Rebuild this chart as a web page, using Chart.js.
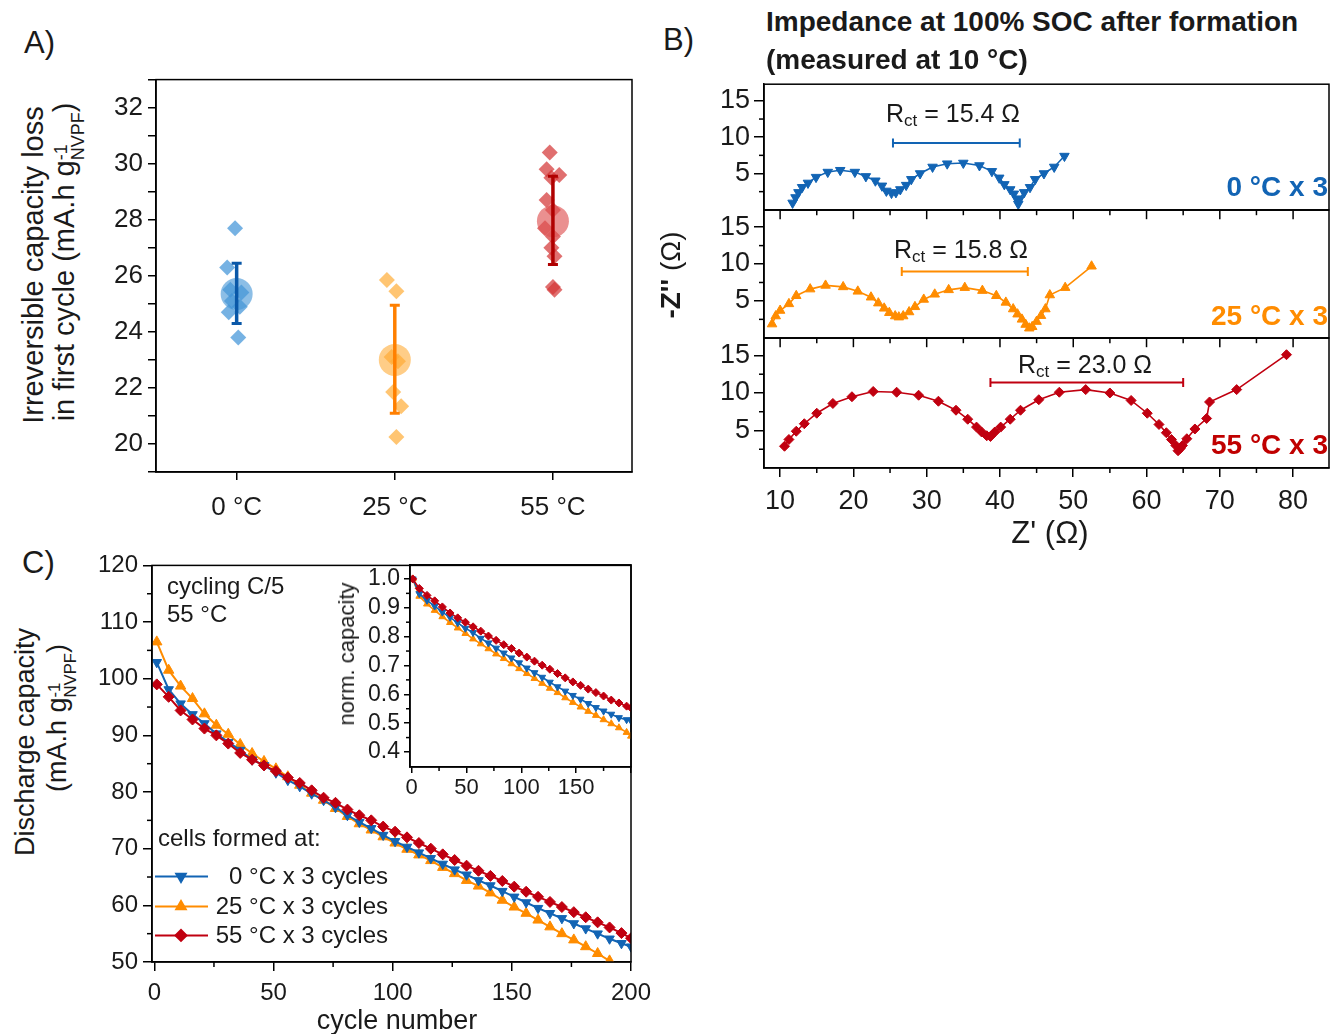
<!DOCTYPE html>
<html>
<head>
<meta charset="utf-8">
<script src="https://cdn.jsdelivr.net/npm/chart.js@4.4.0/dist/chart.umd.min.js"></script>
<style>
body{margin:0;background:#fff;width:1330px;height:1034px;position:relative;overflow:hidden;font-family:'Liberation Sans',Arial,sans-serif;color:#1a1a1a}
canvas{position:absolute}
.t{position:absolute;white-space:nowrap;line-height:1}
.rot{transform:translate(-50%,-50%) rotate(-90deg)}
.ctr{transform:translate(-50%,-50%)}
.rgt{transform:translate(-100%,-50%)}
.lft{transform:translateY(-50%)}
.ss{display:inline-flex;flex-direction:column;font-size:0.62em;line-height:0.95;vertical-align:0.38em}
sub{font-size:0.68em;vertical-align:-0.25em}
</style>
</head>
<body>
<canvas id="chartA" width="560" height="470" style="left:90px;top:70px"></canvas>
<canvas id="chartB0" width="630" height="132" style="left:700px;top:78px"></canvas>
<canvas id="chartB25" width="630" height="128" style="left:700px;top:210px"></canvas>
<canvas id="chartB55" width="630" height="190" style="left:700px;top:338px"></canvas>
<canvas id="chartC" width="600" height="465" style="left:90px;top:550px"></canvas>
<canvas id="chartInset" width="300" height="250" style="left:355px;top:550px"></canvas>

<div class="t" style="left:24px;top:27px;font-size:31px">A)</div>
<div class="t" style="left:663px;top:24px;font-size:31px">B)</div>
<div class="t" style="left:22px;top:547px;font-size:31px">C)</div>

<div class="t rot" style="left:33px;top:265px;font-size:29px">Irreversible capacity loss</div>
<div class="t rot" style="left:69px;top:262px;font-size:29px">in first cycle (mA.h g<span class="ss"><span>-1</span><span>NVPF</span></span>)</div>

<div class="t" style="left:766px;top:8px;font-size:28px;font-weight:bold">Impedance at 100% SOC after formation</div>
<div class="t" style="left:766px;top:46px;font-size:28px;font-weight:bold">(measured at 10 °C)</div>
<div class="t rot" style="left:671px;top:275px;font-size:28px"><b>-Z''</b> (Ω)</div>
<div class="t ctr" style="left:1050px;top:532px;font-size:31px">Z' (Ω)</div>
<div class="t ctr" style="left:953px;top:115px;font-size:25px">R<sub>ct</sub> = 15.4 Ω</div>
<div class="t ctr" style="left:961px;top:251px;font-size:25px">R<sub>ct</sub> = 15.8 Ω</div>
<div class="t ctr" style="left:1085px;top:366px;font-size:25px">R<sub>ct</sub> = 23.0 Ω</div>
<div class="t rgt" style="left:1328px;top:187px;font-size:28px;font-weight:bold;color:#1264b4">0 °C x 3</div>
<div class="t rgt" style="left:1328px;top:316px;font-size:28px;font-weight:bold;color:#ff8c00">25 °C x 3</div>
<div class="t rgt" style="left:1328px;top:445px;font-size:28px;font-weight:bold;color:#c00000">55 °C x 3</div>

<div class="t rot" style="left:25px;top:742px;font-size:27px">Discharge capacity</div>
<div class="t rot" style="left:61px;top:718px;font-size:27px">(mA.h g<span class="ss"><span>-1</span><span>NVPF</span></span>)</div>
<div class="t ctr" style="left:397px;top:1020px;font-size:27px">cycle number</div>
<div class="t lft" style="left:167px;top:586px;font-size:24px">cycling C/5</div>
<div class="t lft" style="left:167px;top:614px;font-size:24px">55 °C</div>
<div class="t lft" style="left:158px;top:838px;font-size:24px">cells formed at:</div>
<div class="t rgt" style="left:388px;top:876px;font-size:24px">0 °C x 3 cycles</div>
<div class="t rgt" style="left:388px;top:906px;font-size:24px">25 °C x 3 cycles</div>
<div class="t rgt" style="left:388px;top:935px;font-size:24px">55 °C x 3 cycles</div>
<div class="t rot" style="left:347px;top:654px;font-size:22px">norm. capacity</div>

<script>
// ---- A) irreversible capacity loss in first cycle ----
const categories = ['0 °C', '25 °C', '55 °C'];
const lossMean = [25.35, 23.0, 27.95];
const lossLow = [24.3, 21.1, 26.4];
const lossHigh = [26.45, 24.95, 29.55];
const loss0C = [27.7, 26.3, 25.5, 25.4, 25.1, 24.9, 24.7, 23.8];
const jitter0C = [-0.01, -0.06, -0.04, 0.03, -0.03, 0.02, -0.05, 0.01];
const loss25C = [25.85, 25.45, 23.1, 22.95, 21.85, 21.35, 20.25];
const jitter25C = [-0.05, 0.01, -0.02, 0.02, -0.01, 0.04, 0.01];
const loss55C = [30.4, 29.8, 29.6, 29.5, 28.7, 28.35, 27.7, 27.4, 27.0, 26.7, 25.6, 25.5];
const jitter55C = [-0.02, -0.04, 0.04, -0.01, -0.04, 0.0, -0.05, 0.0, -0.01, 0.01, 0.0, 0.01];

// ---- B) impedance spectra, Z' and -Z'' in ohm ----
const zRe0 = [11.7, 12.1, 12.5, 13.0, 13.8, 14.9, 16.5, 18.2, 20.2, 21.7, 23.0, 23.9, 24.5, 25.2, 25.8, 26.4, 27.2, 27.9, 29.1, 30.8, 32.8, 35.0, 37.2, 38.9, 39.9, 40.6, 41.4, 41.9, 42.3, 42.5, 42.7, 43.3, 44.1, 44.8, 46.0, 47.4, 48.8];
const zIm0 = [0.95, 1.7, 2.4, 3.1, 3.7, 4.5, 5.2, 5.45, 5.2, 4.6, 4.0, 3.3, 2.6, 2.3, 2.4, 2.8, 3.4, 4.2, 5.0, 5.9, 6.35, 6.45, 6.1, 5.3, 4.4, 3.5, 2.8, 2.2, 1.5, 0.8, 1.5, 2.4, 3.1, 4.2, 5.0, 5.9, 7.4];
const zRe25 = [8.9, 9.4, 10.0, 11.2, 12.2, 14.1, 16.2, 18.6, 20.6, 22.4, 23.4, 24.2, 24.9, 25.7, 26.2, 26.8, 27.6, 28.4, 29.6, 31.1, 33.0, 35.2, 37.6, 39.5, 40.8, 41.8, 42.4, 43.0, 43.5, 44.0, 44.4, 45.0, 45.6, 46.2, 46.8, 48.9, 52.5];
const zIm25 = [1.86, 2.95, 3.7, 4.6, 5.7, 6.6, 7.1, 6.9, 6.3, 5.5, 4.7, 4.0, 3.4, 2.95, 2.8, 2.95, 3.5, 4.2, 5.2, 5.9, 6.5, 6.8, 6.4, 5.7, 4.8, 3.9, 3.2, 2.5, 1.8, 1.3, 1.5, 2.2, 3.0, 3.9, 5.8, 6.8, 9.7];
const zRe55 = [10.6, 11.2, 12.2, 13.3, 15.0, 17.2, 19.8, 22.7, 25.9, 28.9, 31.6, 34.0, 35.6, 36.8, 37.5, 38.2, 38.7, 39.3, 40.1, 41.4, 42.8, 45.3, 48.1, 51.7, 55.0, 57.9, 60.1, 61.7, 62.7, 63.4, 64.0, 64.3, 64.6, 64.9, 65.5, 66.6, 68.2, 68.6, 72.3, 79.1];
const zIm55 = [2.9, 3.8, 4.9, 5.9, 7.3, 8.6, 9.5, 10.2, 10.1, 9.7, 8.9, 7.7, 6.5, 5.45, 4.8, 4.3, 4.2, 4.8, 5.45, 6.5, 7.7, 9.1, 10.1, 10.45, 10.0, 9.0, 7.3, 5.8, 4.7, 3.8, 3.0, 2.3, 2.6, 3.0, 3.9, 5.2, 6.6, 8.8, 10.45, 15.1];
const rct0 = [25.4, 42.7], rct0Level = 9.2;
const rct25 = [26.6, 43.8], rct25Level = 9.0;
const rct55 = [38.7, 65.0], rct55Level = 11.4;

// ---- C) cycling at C/5, 55 °C ----
const cycles = [1, 6, 11, 16, 21, 26, 31, 36, 41, 46, 51, 56, 61, 66, 71, 76, 81, 86, 91, 96, 101, 106, 111, 116, 121, 126, 131, 136, 141, 146, 151, 156, 161, 166, 171, 176, 181, 186, 191, 196, 200];
const cap0C = [102.9, 98.1, 95.6, 93.7, 92.1, 90.3, 88.8, 87.4, 85.7, 84.7, 83.4, 82.1, 81.0, 79.7, 78.55, 77.3, 75.9, 74.7, 73.6, 72.4, 71.3, 70.3, 69.3, 68.3, 67.3, 66.3, 65.4, 64.4, 63.5, 62.5, 61.5, 60.5, 59.5, 58.6, 57.7, 56.8, 55.9, 55.0, 54.1, 53.3, 52.7];
const cap25C = [106.5, 101.5, 98.7, 96.5, 93.8, 91.8, 90.2, 88.4, 86.8, 85.4, 84.1, 82.7, 81.2, 79.8, 78.55, 77.1, 75.7, 74.4, 73.3, 72.1, 71.0, 69.9, 68.9, 67.9, 66.7, 65.6, 64.4, 63.4, 62.2, 60.9, 59.7, 58.6, 57.4, 56.2, 55.0, 53.9, 52.7, 51.5, 50.2];
const cap55C = [99.0, 96.8, 94.4, 92.8, 91.2, 90.0, 88.55, 86.9, 85.7, 84.7, 83.7, 82.55, 81.6, 80.3, 79.0, 78.1, 76.9, 75.9, 75.0, 73.9, 73.0, 72.0, 71.0, 70.0, 69.0, 68.0, 67.0, 66.1, 65.2, 64.3, 63.3, 62.4, 61.5, 60.6, 59.7, 58.8, 57.9, 57.0, 56.1, 55.1, 54.2];
const insetCycles = [1, 7, 14, 21, 28, 35, 42, 49, 56, 63, 70, 77, 84, 91, 98, 105, 112, 119, 126, 133, 140, 147, 154, 161, 168, 175, 182, 189, 196, 200];
const norm0C = [1, 0.949, 0.926, 0.906, 0.885, 0.867, 0.848, 0.829, 0.814, 0.794, 0.778, 0.760, 0.743, 0.726, 0.709, 0.691, 0.675, 0.659, 0.642, 0.626, 0.611, 0.596, 0.583, 0.568, 0.554, 0.542, 0.531, 0.519, 0.512, 0.508];
const norm25C = [1, 0.940, 0.913, 0.891, 0.869, 0.849, 0.830, 0.811, 0.792, 0.775, 0.758, 0.740, 0.724, 0.706, 0.689, 0.672, 0.655, 0.638, 0.621, 0.606, 0.588, 0.572, 0.556, 0.541, 0.527, 0.512, 0.498, 0.484, 0.468, 0.455];
const norm55C = [1, 0.967, 0.943, 0.924, 0.903, 0.882, 0.865, 0.850, 0.834, 0.819, 0.802, 0.787, 0.772, 0.759, 0.743, 0.729, 0.715, 0.701, 0.687, 0.672, 0.657, 0.643, 0.631, 0.618, 0.606, 0.594, 0.580, 0.570, 0.559, 0.553];

// tick positions (major ticks carry labels, minor ones are short marks)
const ticksA_x = [1, 2, 3];
const ticksA_y = [19, 20, 21, 22, 23, 24, 25, 26, 27, 28, 29, 30, 31, 32, 33];
const majorB_x = [10, 20, 30, 40, 50, 60, 70, 80];
const minorB_x = [15, 25, 35, 45, 55, 65, 75];
const majorB_y = [5, 10, 15];
const minorB_y = [2.5, 7.5, 12.5];
const majorC_x = [0, 50, 100, 150, 200];
const minorC_x = [25, 75, 125, 175];
const majorC_y = [50, 60, 70, 80, 90, 100, 110, 120];
const minorC_y = [55, 65, 75, 85, 95, 105, 115];
const majorIn_y = [0.4, 0.5, 0.6, 0.7, 0.8, 0.9, 1.0];
const minorIn_y = [0.45, 0.55, 0.65, 0.75, 0.85, 0.95];

const BLUE = '#1264b4', ORANGE = '#ff8c00', RED = '#c00010';

Chart.defaults.font.family = "'Liberation Sans', Arial, sans-serif";
Chart.defaults.color = '#1a1a1a';
Chart.defaults.animation = false;
Chart.defaults.plugins.legend.display = false;
Chart.defaults.plugins.tooltip.enabled = false;

// box round the plot area, short minor ticks, inward ticks on the top edge
const framePlugin = {
    id: 'frame',
    afterDraw(chart, args, opts) {
        const ctx = chart.ctx;
        const a = chart.chartArea;
        const xs = chart.scales.x, ys = chart.scales.y;
        const seg = (x1, y1, x2, y2) => { ctx.beginPath(); ctx.moveTo(x1, y1); ctx.lineTo(x2, y2); ctx.stroke(); };
        ctx.save();
        ctx.strokeStyle = '#000';
        ctx.lineWidth = 1.5;
        ctx.strokeRect(a.left, a.top, a.right - a.left, a.bottom - a.top);
        const ml = opts.minorLen || 5;
        (opts.minorY || []).forEach((v) => { const p = ys.getPixelForValue(v); seg(a.left - ml, p, a.left, p); });
        (opts.minorX || []).forEach((v) => { const p = xs.getPixelForValue(v); seg(p, a.bottom, p, a.bottom + ml); });
        (opts.topMajor || []).forEach((v) => { const p = xs.getPixelForValue(v); seg(p, a.top, p, a.top + 9); });
        (opts.topMinor || []).forEach((v) => { const p = xs.getPixelForValue(v); seg(p, a.top, p, a.top + 5); });
        ctx.restore();
    }
};

// line + marker samples of the legend in C
const legendPlugin = {
    id: 'sampleLegend',
    afterDraw(chart, args, opts) {
        if (!opts.rows) return;
        const ctx = chart.ctx;
        const a = chart.chartArea;
        ctx.save();
        opts.rows.forEach((r) => {
            const y = a.top + r.dy;
            ctx.strokeStyle = r.color;
            ctx.fillStyle = r.color;
            ctx.lineWidth = 2;
            ctx.beginPath();
            ctx.moveTo(a.left + 3, y);
            ctx.lineTo(a.left + 56, y);
            ctx.stroke();
            Chart.helpers.drawPoint(ctx, { pointStyle: r.style, radius: 5.5, rotation: r.rot || 0, borderWidth: 1 }, a.left + 29, y);
        });
        ctx.restore();
    }
};

Chart.register(framePlugin, legendPlugin);

function axis(o) {
    return {
        type: 'linear',
        position: o.position,
        display: o.display !== false,
        min: o.min,
        max: o.max,
        grid: { drawOnChartArea: false, drawTicks: true, tickLength: o.tick || 8, color: '#000', lineWidth: 1.5 },
        border: { display: true, color: '#000', width: 1.5 },
        ticks: {
            autoSkip: false, maxRotation: 0, padding: o.pad || 4, color: '#1a1a1a',
            font: { size: o.size || 24 },
            callback: o.label
        },
        afterBuildTicks: (s) => { s.ticks = o.ticks.map((v) => ({ value: v })); },
        afterFit: (s) => {
            if (!o.fit) return;
            if (s.isHorizontal()) s.height = o.fit; else s.width = o.fit;
        }
    };
}

function pts(xs, ys) {
    return ys.map((y, i) => ({ x: xs[i], y: y }));
}

// resize/move a canvas so that its plot area lands on the given box of the page
function fitArea(chart, box) {
    const a = chart.chartArea;
    const w = Math.round(chart.width + (box.right - box.left) - (a.right - a.left));
    const h = Math.round(chart.height + (box.bottom - box.top) - (a.bottom - a.top));
    chart.resize(w, h);
    const b = chart.chartArea;
    chart.canvas.style.left = Math.round(box.left - b.left) + 'px';
    chart.canvas.style.top = Math.round(box.top - b.top) + 'px';
}

const baseOpts = { responsive: false, maintainAspectRatio: false };

// ---------- chart A ----------
const lossPoints = [loss0C, loss25C, loss55C];
const lossJitter = [jitter0C, jitter25C, jitter55C];
const styleA = [
    { bar: '#0a58a8', dot: 'rgba(60,145,215,0.7)', mean: 'rgba(70,150,215,0.62)' },
    { bar: '#ff7f00', dot: 'rgba(255,175,60,0.72)', mean: 'rgba(255,172,55,0.6)' },
    { bar: '#b00000', dot: 'rgba(212,55,55,0.72)', mean: 'rgba(222,85,85,0.65)' }
];
const setsA = [];
categories.forEach((c, i) => {
    setsA.push({
        label: c + ' sd',
        data: [{ x: i + 1, y: lossLow[i] }, { x: i + 1, y: lossHigh[i] }],
        showLine: true, borderColor: styleA[i].bar, borderWidth: 3.5,
        pointStyle: 'line', pointRadius: 5, pointBorderWidth: 3, pointBorderColor: styleA[i].bar
    });
});
categories.forEach((c, i) => {
    setsA.push({
        label: c + ' mean',
        data: [{ x: i + 1, y: lossMean[i] }],
        pointStyle: 'circle', pointRadius: 16, backgroundColor: styleA[i].mean, borderWidth: 0
    });
});
categories.forEach((c, i) => {
    setsA.push({
        label: c,
        data: lossPoints[i].map((v, k) => ({ x: i + 1 + lossJitter[i][k], y: v })),
        pointStyle: 'rectRot', pointRadius: 8, backgroundColor: styleA[i].dot, borderWidth: 0
    });
});

const chartA = new Chart(document.getElementById('chartA'), {
    type: 'scatter',
    data: { datasets: setsA },
    options: {
        ...baseOpts,
        layout: { padding: { top: 15, right: 20, left: 0, bottom: 0 } },
        scales: {
            x: axis({ position: 'bottom', min: 0.49, max: 3.5, ticks: ticksA_x, fit: 68, tick: 8, pad: 12, size: 26,
                label: (v) => categories[v - 1] }),
            y: axis({ position: 'left', min: 19, max: 33, ticks: ticksA_y, fit: 66, tick: 8, pad: 5, size: 26,
                label: (v) => (v % 2 === 0 ? v : '') })
        }
    }
});
fitArea(chartA, { left: 156, top: 80, right: 632, bottom: 472 });

// ---------- chart B (three stacked panels) ----------
function impedancePanel(id, re, im, rct, level, color, style, rot, opts) {
    return new Chart(document.getElementById(id), {
        type: 'scatter',
        data: {
            datasets: [
                {
                    label: 'Rct',
                    data: [{ x: rct[0], y: level }, { x: rct[1], y: level }],
                    showLine: true, borderColor: color, borderWidth: 2,
                    pointStyle: 'line', pointRotation: 90, pointRadius: 4.5, pointBorderWidth: 2, pointBorderColor: color
                },
                {
                    label: id,
                    data: pts(re, im),
                    showLine: true, borderColor: color, borderWidth: 1.6,
                    pointStyle: style, pointRotation: rot, pointRadius: style === 'rectRot' ? 5 : 5.5,
                    backgroundColor: color, pointBorderColor: color, pointBorderWidth: 1
                }
            ]
        },
        options: {
            ...baseOpts,
            layout: { padding: { top: 12, right: 12, left: 0, bottom: 0 } },
            plugins: {
                frame: {
                    minorY: minorB_y,
                    minorX: opts.showX ? minorB_x : [],
                    topMajor: opts.topTicks ? majorB_x : [],
                    topMinor: opts.topTicks ? minorB_x : []
                }
            },
            scales: {
                x: axis({ position: 'bottom', display: opts.showX, min: 7.8, max: 84.9, ticks: majorB_x,
                    fit: opts.showX ? 48 : 0, tick: 9, pad: 8, size: 27 }),
                y: axis({ position: 'left', min: 0, max: 17.3, ticks: majorB_y, fit: 64, tick: 10, pad: 4, size: 27 })
            }
        }
    });
}

const chartB0 = impedancePanel('chartB0', zRe0, zIm0, rct0, rct0Level, BLUE, 'triangle', 180, { showX: false, topTicks: false });
const chartB25 = impedancePanel('chartB25', zRe25, zIm25, rct25, rct25Level, ORANGE, 'triangle', 0, { showX: false, topTicks: true });
const chartB55 = impedancePanel('chartB55', zRe55, zIm55, rct55, rct55Level, RED, 'rectRot', 0, { showX: true, topTicks: true });
fitArea(chartB0, { left: 764, top: 84, right: 1329, bottom: 210 });
fitArea(chartB25, { left: 764, top: 210, right: 1329, bottom: 338 });
fitArea(chartB55, { left: 764, top: 338, right: 1329, bottom: 468 });

// ---------- chart C ----------
function capSet(label, ys, color, style, rot, radius) {
    return {
        label: label,
        data: pts(cycles, ys),
        showLine: true, borderColor: color, borderWidth: 2,
        pointStyle: style, pointRotation: rot, pointRadius: radius,
        backgroundColor: color, pointBorderColor: color, pointBorderWidth: 1
    };
}

const chartC = new Chart(document.getElementById('chartC'), {
    type: 'scatter',
    data: {
        datasets: [
            capSet('55 °C x 3 cycles', cap55C, RED, 'rectRot', 0, 5.5),
            capSet('0 °C x 3 cycles', cap0C, BLUE, 'triangle', 180, 5.5),
            capSet('25 °C x 3 cycles', cap25C, ORANGE, 'triangle', 0, 6)
        ]
    },
    options: {
        ...baseOpts,
        layout: { padding: { top: 15, right: 30, left: 0, bottom: 0 } },
        plugins: {
            frame: { minorY: minorC_y, minorX: minorC_x },
            sampleLegend: {
                rows: [
                    { dy: 311, color: BLUE, style: 'triangle', rot: 180 },
                    { dy: 341, color: ORANGE, style: 'triangle', rot: 0 },
                    { dy: 370, color: RED, style: 'rectRot', rot: 0 }
                ]
            }
        },
        scales: {
            x: axis({ position: 'bottom', min: -1, max: 200, ticks: majorC_x, fit: 53, tick: 9, pad: 8, size: 24 }),
            y: axis({ position: 'left', min: 50, max: 120, ticks: majorC_y, fit: 62, tick: 9, pad: 5, size: 24 })
        }
    }
});
fitArea(chartC, { left: 152, top: 565, right: 631, bottom: 962 });

// ---------- inset: normalised capacity ----------
function normSet(label, ys, color, style, rot) {
    return {
        label: label,
        data: pts(insetCycles, ys),
        showLine: true, borderColor: color, borderWidth: 1.6,
        pointStyle: style, pointRotation: rot, pointRadius: 4,
        backgroundColor: color, pointBorderColor: color, pointBorderWidth: 1
    };
}

const chartInset = new Chart(document.getElementById('chartInset'), {
    type: 'scatter',
    data: {
        datasets: [
            normSet('55 °C', norm55C, RED, 'rectRot', 0),
            normSet('0 °C', norm0C, BLUE, 'triangle', 180),
            normSet('25 °C', norm25C, ORANGE, 'triangle', 0)
        ]
    },
    options: {
        ...baseOpts,
        layout: { padding: { top: 15, right: 20, left: 0, bottom: 0 } },
        plugins: { frame: { minorY: minorIn_y, minorX: minorC_x, minorLen: 4 } },
        scales: {
            x: axis({ position: 'bottom', min: -1.5, max: 200, ticks: majorC_x, fit: 33, tick: 6, pad: 2, size: 22,
                label: (v) => (v < 200 ? v : '') }),
            y: axis({ position: 'left', min: 0.348, max: 1.049, ticks: majorIn_y, fit: 55, tick: 6, pad: 4, size: 23,
                label: (v) => v.toFixed(1) })
        }
    }
});
fitArea(chartInset, { left: 410, top: 565, right: 631, bottom: 767 });
</script>
</body>
</html>
